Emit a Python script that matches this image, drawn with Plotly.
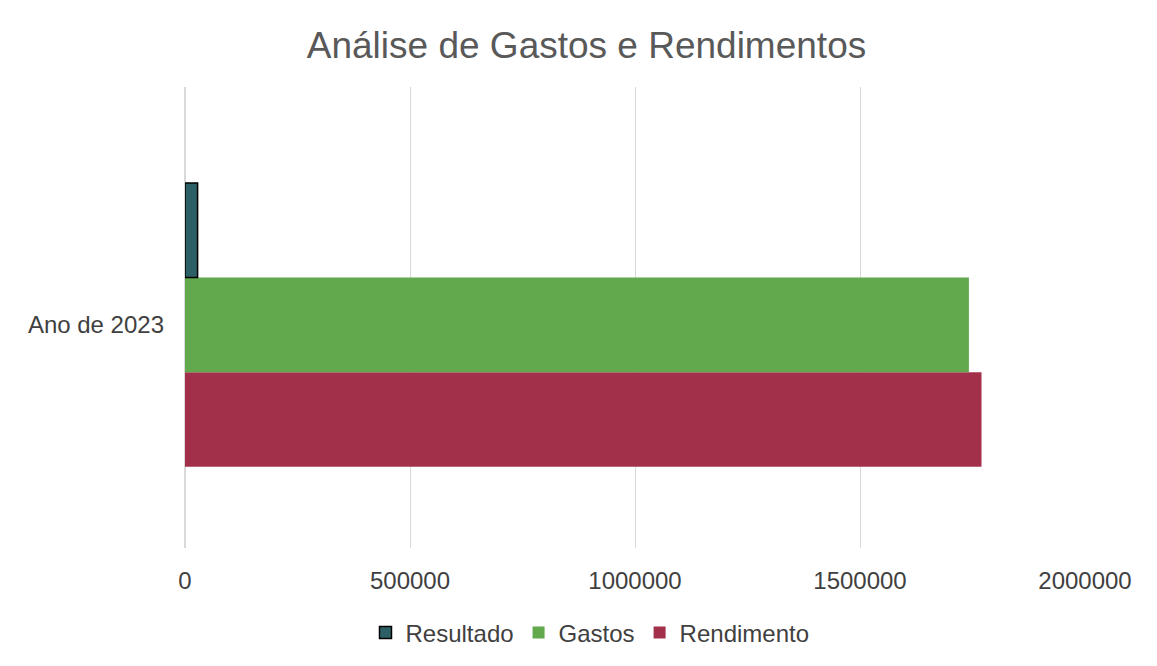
import plotly.graph_objects as go

categories = ["Ano de 2023"]
resultado = [28000]
gastos = [1742000]
rendimento = [1770000]

fig = go.Figure()
fig.add_trace(go.Bar(name="Rendimento", y=categories, x=rendimento, orientation="h",
                     marker=dict(color="#A3304A", line=dict(width=0))))
fig.add_trace(go.Bar(name="Gastos", y=categories, x=gastos, orientation="h",
                     marker=dict(color="#62A84D", line=dict(width=0))))
fig.add_trace(go.Bar(name="Resultado", y=categories, x=resultado, orientation="h",
                     marker=dict(color="#2D6066", line=dict(width=1.5, color="#000000"))))

fig.update_layout(
    width=1157, height=666,
    paper_bgcolor="white", plot_bgcolor="white",
    font=dict(family="Liberation Sans, Arial, sans-serif", size=24, color="#404040"),
    title=dict(text="Análise de Gastos e Rendimentos", x=0.5, xanchor="center",
               y=0.944, yanchor="middle",
               font=dict(size=37, color="#595959")),
    barmode="group", bargap=0.384, bargroupgap=0,
    margin=dict(l=177, r=80, t=79, b=126),
    xaxis=dict(range=[0, 2000000], dtick=500000, showgrid=True, gridcolor="#D9D9D9",
               gridwidth=1, zeroline=True, zerolinecolor="#D9D9D9", showline=False,
               ticks="", tickformat="d", ticklabelstandoff=16,
               tickfont=dict(size=24, color="#404040")),
    yaxis=dict(range=[-0.484, 0.516], showgrid=False, zeroline=False, showline=False,
               ticks="", ticklabelstandoff=20, tickfont=dict(size=24, color="#404040")),
    legend=dict(orientation="h", x=0.45, xanchor="center", y=-0.184, yanchor="middle",
                traceorder="reversed", font=dict(size=24, color="#404040"),
                itemwidth=30),
    showlegend=True,
)

fig.write_html("out.html")
